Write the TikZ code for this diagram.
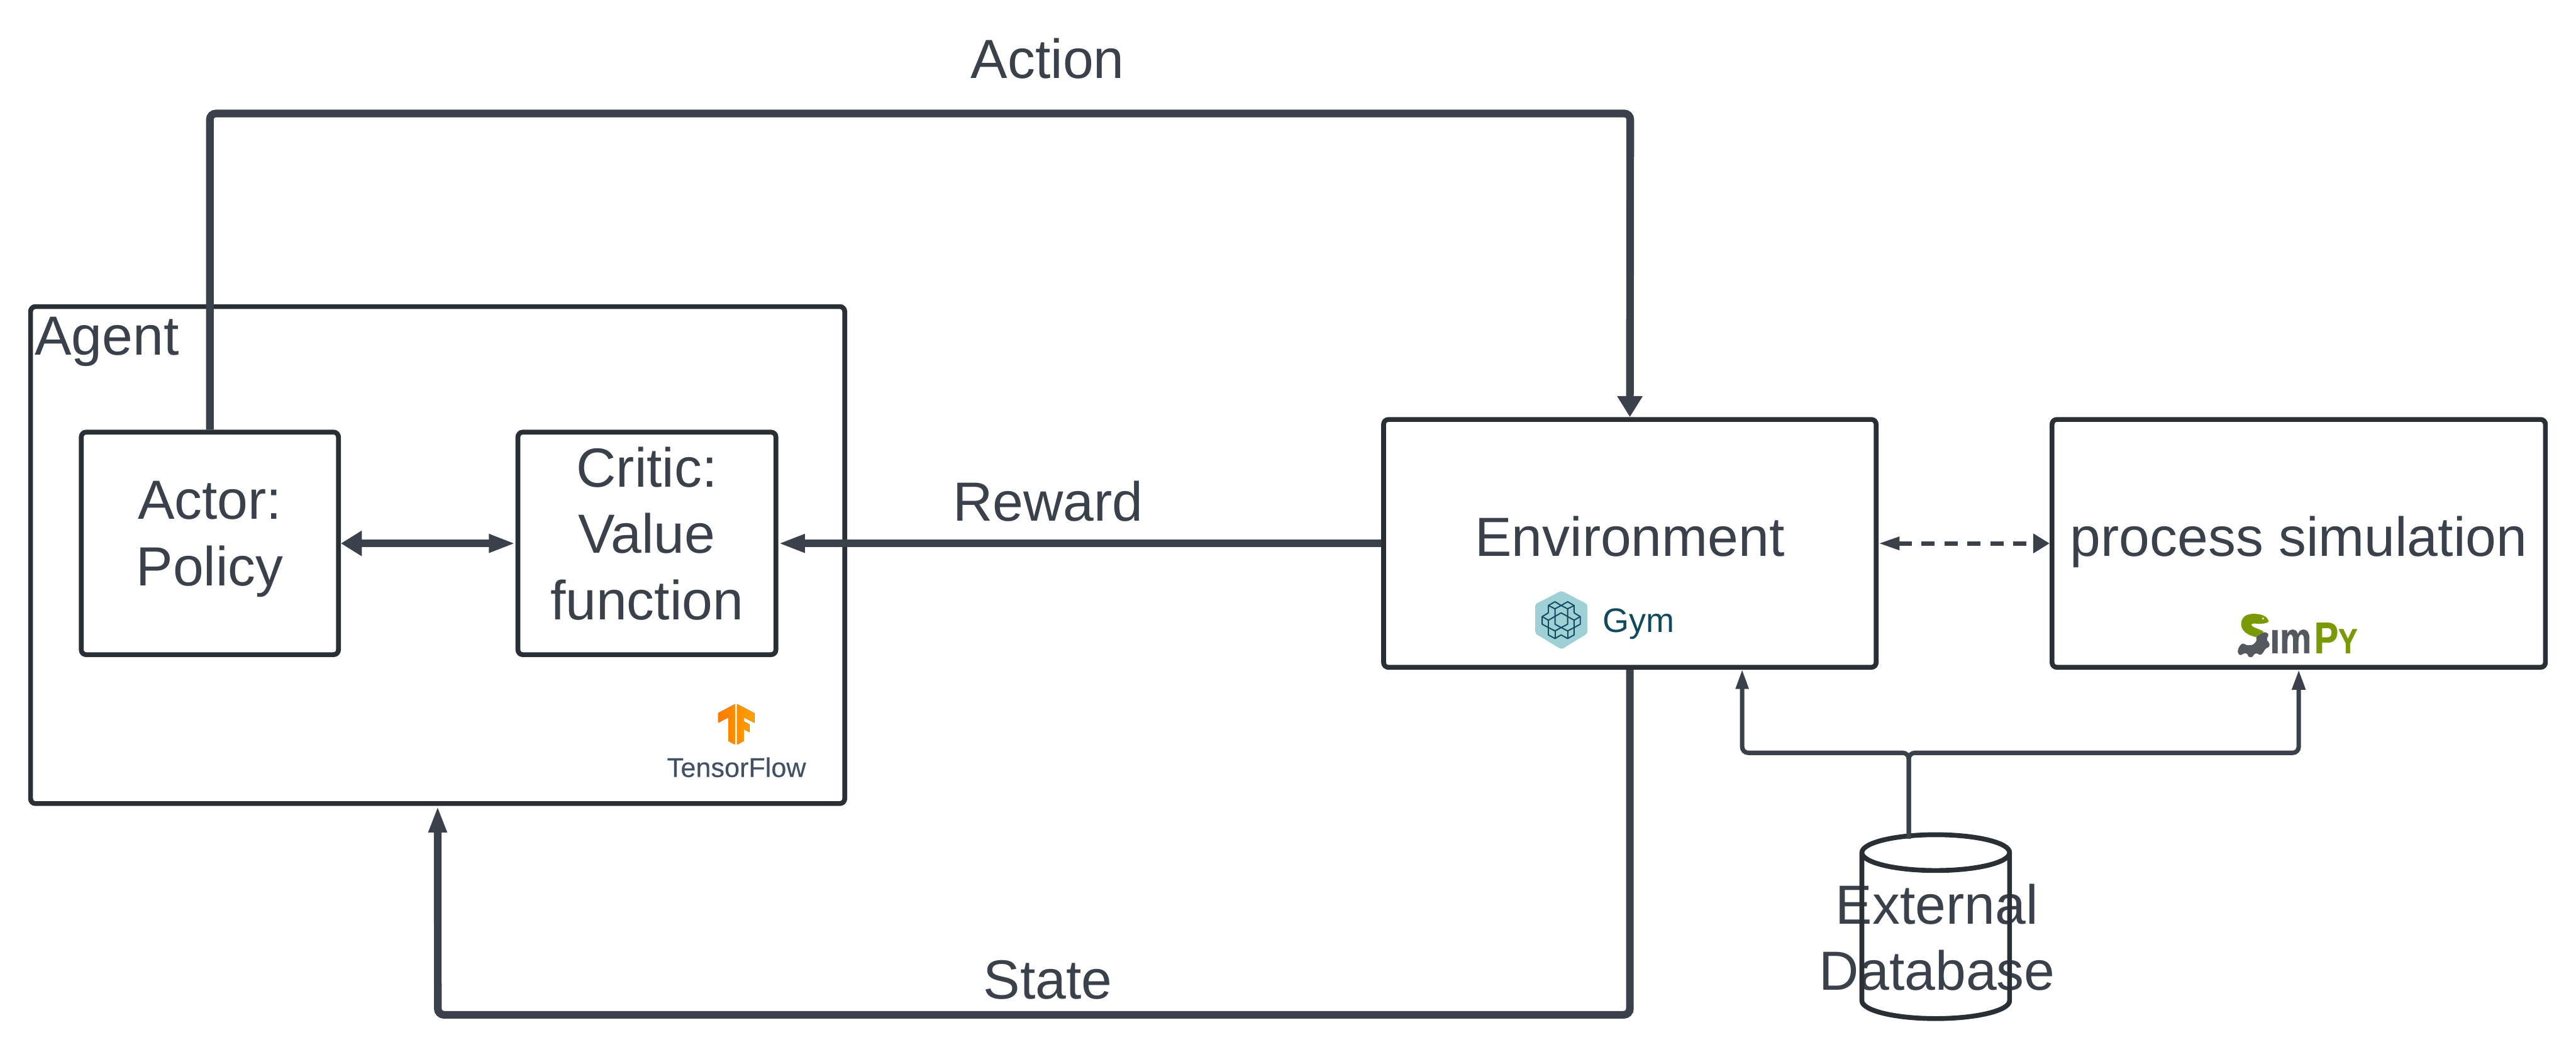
\documentclass[tikz,border=0pt]{standalone}
\usepackage{fontspec}
\setmainfont{Liberation Sans}
\newfontfamily\logofont[FakeBold=0.3]{Liberation Sans}
\newfontfamily\simfont[FakeStretch=0.82,FakeBold=1.2]{Liberation Sans Bold}
\usetikzlibrary{arrows.meta,positioning,shapes.geometric}
\definecolor{ink}{HTML}{3B414B}
\definecolor{edge}{HTML}{2A2F36}
\definecolor{tfl}{HTML}{FF7A00}
\definecolor{tfr}{HTML}{FFA500}
\definecolor{tfink}{HTML}{425066}
\definecolor{gymhex}{HTML}{9FD0D6}
\definecolor{gymln}{HTML}{0F4A5F}
\definecolor{simgr}{HTML}{7A9A05}
\definecolor{simdk}{HTML}{55585E}
\newcommand{\lnstrut}{\rule[-14.4pt]{0pt}{47pt}}
\tikzset{
  lbl/.style={text=ink,font=\fontsize{39}{47}\selectfont},
  box/.style={lbl,draw=edge,line width=.12cm,rounded corners=.12cm,align=center,inner sep=0pt,
    execute at begin node=\lnstrut,execute at end node=\lnstrut},
  thickar/.style={line width=.19cm,draw=ink,rounded corners=.15cm},
  thinar/.style={line width=.11cm,draw=ink,rounded corners=.15cm},
}
\begin{document}
\begin{tikzpicture}
\useasboundingbox (0,0) rectangle (64.01,26.14);
\node[box,minimum width=20.23cm,minimum height=12.35cm] (agent) at (10.875,12.345) {};
\node[lbl,anchor=base west,inner sep=0pt] (agentlbl) at (.86,17.32) {Agent};
\node[box,minimum width=6.39cm,minimum height=5.53cm] (actor) at (5.215,12.635) {Actor:\\Policy};
\node[box,minimum width=6.41cm,minimum height=5.53cm,right=4.34cm of actor] (critic) {Critic:\\Value\\function};
\node[box,minimum width=12.24cm,minimum height=6.16cm,right=14.98cm of critic] (env) {Environment};
\node[box,minimum width=12.26cm,minimum height=6.16cm,right=4.25cm of env] (sim) {process simulation};
\node[box,draw=none,minimum width=0pt,minimum height=0pt] (dbtext) at (48.13,2.60) {External\\Database};
\node[cylinder,draw=edge,line width=.12cm,shape border rotate=90,aspect=3.8,minimum width=3.67cm,minimum height=4.57cm] (db) at (48.10,2.78) {};
\coordinate (acttop) at (40.51,23.32); \coordinate (statebot) at (10.88,.92);
\coordinate (envtap) at (43.29,9.51); \coordinate (join) at (47.43,7.43); \coordinate (dbtap) at (47.43,5.30);
\draw[thickar,-{Triangle[length=.52cm,width=.6cm]}] (actor.north) |- (acttop) -- (env.north);
\draw[thickar,-{Triangle[length=.66cm,width=.42cm]}] (env.south) |- (statebot) -- (agent.south);
\draw[thickar,-{Triangle[length=.66cm,width=.42cm]}] (env.west) -- (critic.east);
\draw[thickar,{Triangle[length=.52cm,width=.6cm]}-{Triangle[length=.66cm,width=.42cm]}] (actor.east) -- (critic.west);
\draw[thinar,dash pattern=on .33cm off .24cm,{Triangle[length=.52cm,width=.31cm]}-{Triangle[length=.41cm,width=.47cm]}] (env.east) -- (sim.west);
\draw[thinar,-{Triangle[length=.49cm,width=.3cm]}] (dbtap) -- (join) -| (envtap);
\draw[thinar,-{Triangle[length=.5cm,width=.32cm]}] (dbtap) -- (join) -| (sim.south);
\node[lbl,anchor=base] (actlbl) at (26.03,24.19) {Action};
\node[lbl,anchor=base] (rewlbl) at (26.04,13.20) {Reward};
\node[lbl,anchor=base] (statelbl) at (26.04,1.31) {State};
\begin{scope}[shift={(15,9.64)},x=.004464cm,y=-.003333cm]
\fill[left color=tfl,right color=tfl!55!tfr] (731,300)--(636,368)--(636,440)--(693,400)--(693,575)--(731,603)--cycle;
\fill[left color=tfl!55!tfr,right color=tfr] (741,300)--(838,368)--(838,440)--(780,400)--(780,430)--(810,452)--(810,510)--(780,488)--(780,575)--(741,603)--cycle;
\end{scope}
\node[anchor=base west,inner sep=0pt,text=tfink,font=\logofont\fontsize{19.2}{22}\selectfont] (tflbl) at (16.57,6.83) {TensorFlow};
\begin{scope}[shift={(37,12.14)},x=.003827cm,y=-.003333cm]
\fill[gymhex,rounded corners=.05cm] (470,205)--(638,305)--(638,525)--(470,643)--(300,525)--(300,305)--cycle;
\draw[gymln,line width=.03cm,line join=round] (385,315)--(428,287)--(468,315)--(510,287)--(552,315)--(552,370)--(592,398)--(592,455)--(552,480)--(552,535)--(510,562)--(468,535)--(428,562)--(385,535)--(385,480)--(345,455)--(345,398)--(385,370)--cycle;
\draw[gymln,line width=.03cm,line join=round] (385,315)--(428,340)--(468,315)--(510,340)--(552,315);
\draw[gymln,line width=.03cm,line join=round] (428,340)--(428,455)--(468,480)--(510,455)--(510,340);
\draw[gymln,line width=.03cm,line join=round] (345,398)--(385,425)--(468,370)--(552,425)--(592,398);
\draw[gymln,line width=.03cm,line join=round] (385,425)--(385,480)--(428,505)--(468,480)--(510,505)--(552,480)--(552,425);
\draw[gymln,line width=.03cm] (428,505)--(428,562) (510,505)--(510,562);
\end{scope}
\node[anchor=base west,inner sep=0pt,text=gymln,font=\fontsize{24}{28}\selectfont] (gymlbl) at (39.82,10.42) {Gym};
\begin{scope}[shift={(54.5,11.34)},x=.003333cm,y=-.003333cm]
\fill[simdk,rounded corners=.03cm] (465,310)--(525,272)--(555,280)--(565,295)--(548,320)--(555,345)--(570,352)--(568,385)--(540,395)--(520,430)--(500,447)--(475,430)--(450,440)--(445,460)--(415,462)--(400,430)--(370,435)--(350,450)--(330,425)--(340,385)--(368,355)--(400,372)--(440,372)--(470,345)--(475,325)--cycle;
\fill[simgr] (563,195) .. controls (555,150) and (500,135) .. (440,137) .. controls (385,140) and (358,170) .. (358,215) .. controls (358,260) and (400,295) .. (465,310) .. controls (490,295) and (510,285) .. (525,270) .. controls (490,245) and (432,240) .. (435,215) .. controls (440,200) and (530,225) .. (563,195) -- cycle;
\fill[white] (521,172) circle [x radius=8,y radius=8];
\end{scope}
\node[anchor=base west,inner sep=0pt,text=simdk,font=\simfont\fontsize{30.5}{30}\selectfont] (simim) at (56.40,9.91) {\i m};
\node[anchor=base west,inner sep=0pt,text=simgr,font=\simfont\fontsize{31}{30}\selectfont] (simp) at (57.50,9.91) {P};
\node[anchor=base west,inner sep=0pt,text=simgr,font=\simfont\fontsize{24.5}{30}\selectfont] (simy) at (58.10,9.91) {Y};
\end{tikzpicture}
\end{document}
